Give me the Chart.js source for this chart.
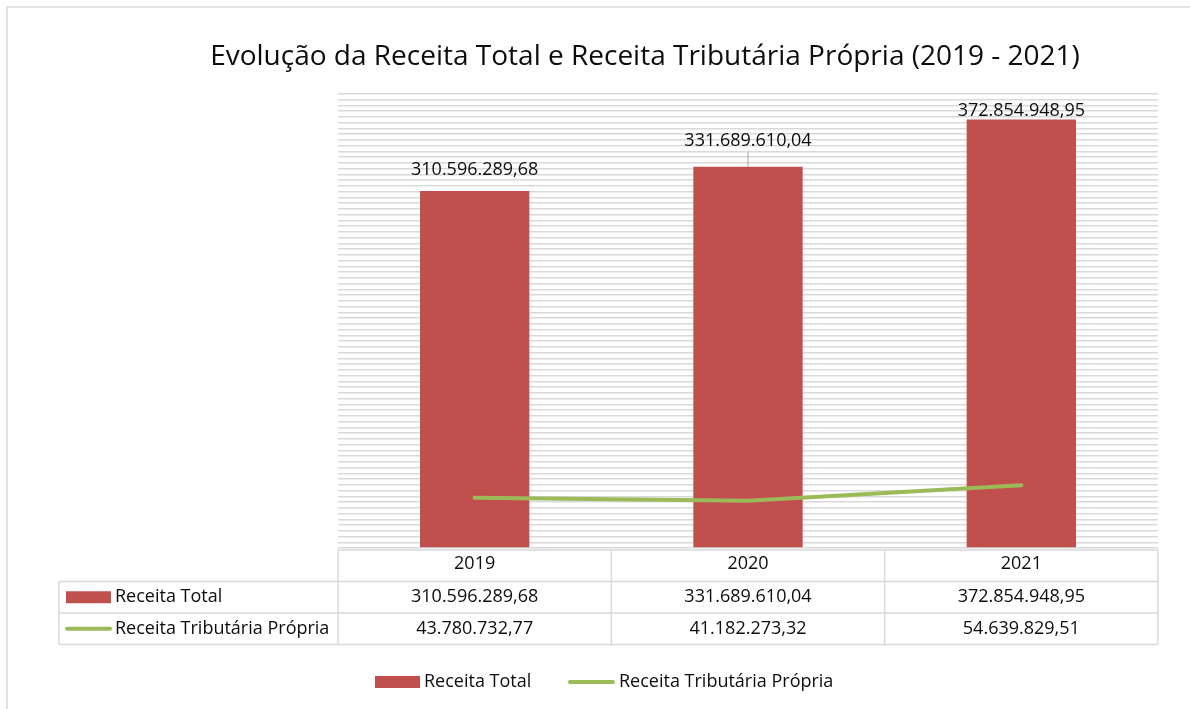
<!DOCTYPE html>
<html>
<head>
<meta charset="utf-8">
<script src="https://cdn.jsdelivr.net/npm/chart.js@4.4.0/dist/chart.umd.min.js"></script>
<style>
  body { margin: 0; background: #fff; }
  canvas { display: block; }
</style>
</head>
<body>
<canvas id="grafico" width="1190" height="709"></canvas>
<script>
// dados do grafico
var anos = ['2019', '2020', '2021'];
var receitaTotal = [310596289.68, 331689610.04, 372854948.95];
var receitaTributaria = [43780732.77, 41182273.32, 54639829.51];
var nomesSeries = ['Receita Total', 'Receita Tributária Própria'];
var titulo = 'Evolução da Receita Total e Receita Tributária Própria (2019 - 2021)';

var VERMELHO = '#C0504D';
var VERDE = '#9BBB59';
var GRADE = '#d9d9d9';
var TEXTO = '#0d0d0d';
var FONTE = '"Open Sans", sans-serif';

// formato brasileiro 1.234.567,89
function formatar(v) {
    var partes = v.toFixed(2).split('.');
    var inteiro = partes[0].replace(/\B(?=(\d{3})+(?!\d))/g, '.');
    return inteiro + ',' + partes[1];
}

var tabelaPlugin = {
    id: 'tabela',
    afterDraw: function (chart) {
        var ctx = chart.ctx;
        var area = chart.chartArea;
        var x = chart.scales.x;
        var metaBar = chart.getDatasetMeta(1);
        var colW = area.width / anos.length;

        ctx.save();

        // borda do grafico
        ctx.strokeStyle = GRADE;
        ctx.lineWidth = 1.5;
        ctx.beginPath();
        ctx.moveTo(7, 709);
        ctx.lineTo(7, 7);
        ctx.lineTo(1190, 7);
        ctx.stroke();

        // titulo
        ctx.fillStyle = TEXTO;
        ctx.textAlign = 'center';
        ctx.textBaseline = 'middle';
        ctx.font = '28px ' + FONTE;
        ctx.fillText(titulo, 645, 57);

        // rotulos das barras
        ctx.font = '18px ' + FONTE;
        var deslocamentos = [21, 26, 9];
        metaBar.data.forEach(function (bar, i) {
            var yTexto = bar.y - deslocamentos[i];
            ctx.fillText(formatar(receitaTotal[i]), bar.x, yTexto);
            if (deslocamentos[i] > 22) {
                ctx.strokeStyle = '#a6a6a6';
                ctx.lineWidth = 1;
                ctx.beginPath();
                ctx.moveTo(bar.x, yTexto + 11);
                ctx.lineTo(bar.x, bar.y);
                ctx.stroke();
            }
        });

        // tabela de dados
        var topo = area.bottom + 2;
        var linhas = [topo, topo + 31.5, topo + 63, topo + 94.5];
        var esq = 59;
        ctx.strokeStyle = GRADE;
        ctx.lineWidth = 1.5;
        ctx.beginPath();
        ctx.moveTo(area.left, linhas[0]);
        ctx.lineTo(area.right, linhas[0]);
        for (var r = 1; r < linhas.length; r++) {
            ctx.moveTo(esq, linhas[r]);
            ctx.lineTo(area.right, linhas[r]);
        }
        ctx.moveTo(esq, linhas[1]);
        ctx.lineTo(esq, linhas[3]);
        for (var c = 0; c <= anos.length; c++) {
            var cx = area.left + c * colW;
            ctx.moveTo(cx, linhas[0]);
            ctx.lineTo(cx, linhas[3]);
        }
        ctx.stroke();

        ctx.fillStyle = TEXTO;
        ctx.font = '18px ' + FONTE;
        ctx.textAlign = 'center';
        anos.forEach(function (ano, i) {
            var px = x.getPixelForValue(i);
            ctx.fillText(ano, px, (linhas[0] + linhas[1]) / 2 - 2);
            ctx.fillText(formatar(receitaTotal[i]), px, (linhas[1] + linhas[2]) / 2);
            ctx.fillText(formatar(receitaTributaria[i]), px, (linhas[2] + linhas[3]) / 2);
        });

        // legenda dentro da tabela
        var y1 = (linhas[1] + linhas[2]) / 2;
        var y2 = (linhas[2] + linhas[3]) / 2;
        ctx.fillStyle = VERMELHO;
        ctx.fillRect(66, y1 - 6, 45, 12);
        ctx.strokeStyle = VERDE;
        ctx.lineWidth = 4;
        ctx.lineCap = 'round';
        ctx.beginPath();
        ctx.moveTo(67, y2);
        ctx.lineTo(110, y2);
        ctx.stroke();
        ctx.fillStyle = TEXTO;
        ctx.textAlign = 'left';
        ctx.fillText(nomesSeries[0], 115, y1);
        ctx.fillText(nomesSeries[1], 115, y2);

        // legenda inferior
        var yl = 682;
        ctx.fillStyle = VERMELHO;
        ctx.fillRect(375, yl - 6, 45, 12);
        ctx.fillStyle = TEXTO;
        ctx.fillText(nomesSeries[0], 424, yl);
        ctx.strokeStyle = VERDE;
        ctx.beginPath();
        ctx.moveTo(570, yl);
        ctx.lineTo(613, yl);
        ctx.stroke();
        ctx.fillText(nomesSeries[1], 619, yl);

        ctx.restore();
    }
};

var ctx = document.getElementById('grafico').getContext('2d');
var grafico = new Chart(ctx, {
    type: 'bar',
    data: {
        labels: anos,
        datasets: [
            {
                type: 'line',
                label: nomesSeries[1],
                data: receitaTributaria,
                borderColor: VERDE,
                backgroundColor: VERDE,
                borderWidth: 4,
                borderCapStyle: 'round',
                pointRadius: 0,
                tension: 0,
                order: 1
            },
            {
                type: 'bar',
                label: nomesSeries[0],
                data: receitaTotal,
                backgroundColor: VERMELHO,
                categoryPercentage: 1,
                barPercentage: 0.4,
                order: 2
            }
        ]
    },
    options: {
        responsive: false,
        animation: false,
        devicePixelRatio: 1,
        layout: { padding: { left: 338, right: 32, top: 94, bottom: 161 } },
        plugins: {
            legend: { display: false },
            title: { display: false },
            tooltip: { enabled: false }
        },
        scales: {
            x: { display: false },
            y: {
                min: 0,
                max: 395000000,
                ticks: { display: false, stepSize: 5000000, maxTicksLimit: 200 },
                grid: { color: GRADE, lineWidth: 1.5, drawTicks: false },
                border: { display: false }
            }
        }
    },
    plugins: [tabelaPlugin]
});
</script>
</body>
</html>
